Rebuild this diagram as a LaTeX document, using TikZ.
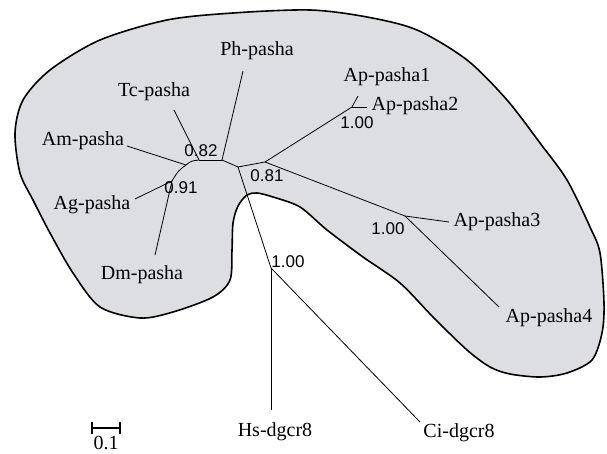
\documentclass[tikz,border=0pt]{standalone}
\usepackage{fontspec}
\setmainfont{Liberation Serif}
\newfontfamily\numfont{Liberation Sans}
\definecolor{blobgray}{RGB}{221,222,225}
\begin{document}
\begin{tikzpicture}[x=1pt,y=-1pt,
  blob/.style={draw=black,line width=1.6pt,fill=blobgray},
  branch/.style={draw=black,line width=0.8pt},
  taxon/.style={inner sep=0pt,font=\fontsize{20}{22}\selectfont},
  support/.style={inner sep=0pt,font=\numfont\fontsize{17}{19}\selectfont},
  scalebar/.style={draw=black,line width=2pt}]
\useasboundingbox (0,0) rectangle (607,454);
% shaded region
\draw[blob] plot[smooth cycle,tension=0.5] coordinates {
 (310,10) (367,17) (417,30) (467,60) (507,100) (540,143) (567,180) (590,227)
 (600,253) (604,303) (602,333) (592,360) (567,373) (540,377) (510,374) (490,367)
 (467,350) (433,317) (400,283) (363,257) (327,230) (300,207) (273,197) (257,193)
 (247,195) (238,206) (233,223) (232,250) (230,280) (213,297) (173,312) (140,318)
 (100,307) (73,273) (50,233) (33,200) (20,173) (15,133) (23,100) (50,70)
 (100,40) (167,20) (233,13)};
% internal nodes
\coordinate (A) at (186,165);
\coordinate (B) at (199,160);
\coordinate (C) at (222,160);
\coordinate (D) at (238,167);
\coordinate (E) at (265,162);
\coordinate (G) at (352,107);
\coordinate (H) at (405,216);
\coordinate (I) at (172,181);
\coordinate (F) at (271,268);
% leaf tips
\coordinate (tTc) at (174,110);
\coordinate (tPh) at (243,71);
\coordinate (tAm) at (127,146);
\coordinate (tAg) at (135,199);
\coordinate (tDm) at (155,255);
\coordinate (tAp1) at (358,96);
\coordinate (tAp2) at (367,107);
\coordinate (tAp3) at (449,222);
\coordinate (tAp4) at (499,307);
\coordinate (tHs) at (271,410);
\coordinate (tCi) at (420,422);
% branches
\draw[branch] (tAm) -- (A);
\draw[branch] (A) .. controls (191,161) .. (B);
\draw[branch] (A) .. controls (178,171) .. (I);
\draw[branch] (I) -- (tAg);
\draw[branch] (I) -- (tDm);
\draw[branch] (tTc) -- (B);
\draw[branch] (B) -- (C);
\draw[branch] (tPh) -- (C);
\draw[branch] (C) -- (D);
\draw[branch] (D) -- (E);
\draw[branch] (E) -- (G);
\draw[branch] (G) -- (tAp1);
\draw[branch] (G) -- (tAp2);
\draw[branch] (E) -- (H);
\draw[branch] (H) -- (tAp3);
\draw[branch] (H) -- (tAp4);
\draw[branch] (D) -- (F);
\draw[branch] (F) -- (tHs);
\draw[branch] (F) -- (tCi);
% taxa
\node[taxon] (Ph) at (257,51) {Ph-pasha};
\node[taxon] (Tc) at (154,92) {Tc-pasha};
\node[taxon] (Am) at (83,141) {Am-pasha};
\node[taxon] (Ag) at (92,205) {Ag-pasha};
\node[taxon] (Dm) at (142,275) {Dm-pasha};
\node[taxon] (Ap1) at (387,77) {Ap-pasha1};
\node[taxon] (Ap2) at (415,106) {Ap-pasha2};
\node[taxon] (Ap3) at (497,222) {Ap-pasha3};
\node[taxon] (Ap4) at (549,318) {Ap-pasha4};
\node[taxon] (Hs) at (275,432) {Hs-dgcr8};
\node[taxon] (Ci) at (459,433) {Ci-dgcr8};
% supports
\node[support] (s1) at (201,151) {0.82};
\node[support] (s2) at (181,188) {0.91};
\node[support] (s3) at (267,176) {0.81};
\node[support] (s4) at (357,123) {1.00};
\node[support] (s5) at (388,229) {1.00};
\node[support] (s6) at (288,262) {1.00};
% scale bar
\coordinate (sbL) at (92,428);
\coordinate (sbR) at (120,428);
\draw[scalebar] (sbL) -- (sbR);
\draw[scalebar] ([yshift=-6pt]sbL) -- ([yshift=6pt]sbL);
\draw[scalebar] ([yshift=-6pt]sbR) -- ([yshift=6pt]sbR);
\node[taxon] (sbT) at (106,443) {0.1};
\end{tikzpicture}
\end{document}
